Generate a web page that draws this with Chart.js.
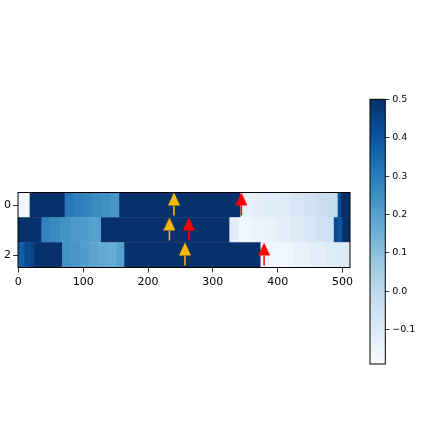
<!DOCTYPE html>
<html>
<head>
<meta charset="utf-8">
<script src="https://cdn.jsdelivr.net/npm/chart.js@4"></script>
<style>
  html, body { margin: 0; padding: 0; background: #fff; }
  #wrap { position: relative; width: 426px; height: 444px; }
  #heat { position: absolute; left: 0; top: 0; }
  #cbar { position: absolute; left: 360px; top: 90px; }
</style>
</head>
<body>
<div id="wrap">
  <canvas id="heat" width="426" height="444"></canvas>
  <canvas id="cbar" width="66" height="290"></canvas>
</div>
<script>
// each row of the image as runs: edges in column units, one value per run
const row0Edges  = [-0.5, 18, 72, 86, 100, 114, 128, 142, 156, 343, 360, 380, 400, 420, 440, 460, 480, 493, 498, 511.5];
const row0Values = [-0.16, 0.5, 0.31, 0.29, 0.28, 0.26, 0.25, 0.23, 0.5, -0.13, -0.12, -0.11, -0.10, -0.08, -0.06, -0.04, -0.02, 0.42, 0.5];

const row1Edges  = [-0.5, 36, 50, 65, 80, 95, 110, 128, 326, 340, 360, 380, 400, 420, 440, 460, 487, 494, 500, 511.5];
const row1Values = [0.5, 0.28, 0.26, 0.24, 0.22, 0.21, 0.20, 0.5, -0.11, -0.16, -0.15, -0.14, -0.12, -0.10, -0.08, -0.05, 0.43, 0.40, 0.5];

const row2Edges  = [-0.5, 10, 20, 26, 68, 82, 96, 110, 124, 138, 152, 164, 374, 400, 425, 450, 475, 500, 511.5];
const row2Values = [0.38, 0.43, 0.45, 0.5, 0.24, 0.23, 0.21, 0.19, 0.17, 0.16, 0.20, 0.5, -0.17, -0.16, -0.14, -0.12, -0.10, -0.09];

const xTicks = [0, 100, 200, 300, 400, 500];
const yTicks = [0, 2];
const colorbarTicks = [0.5, 0.4, 0.3, 0.2, 0.1, 0.0, -0.1];
const vMin = -0.189;
const vMax = 0.5;

// arrows: column and row
const orangeX = [240, 233, 257];
const orangeRow = [0, 1, 2];
const redX = [344, 263, 379];
const redRow = [0, 1, 2];

const blues = ["#f7fbff", "#deebf7", "#c6dbef", "#9ecae1", "#6baed6", "#4292c6", "#2171b5", "#08519c", "#08306b"];
const fontFamily = "'DejaVu Sans', sans-serif";

function hexToRgb(h) {
    return [parseInt(h.slice(1, 3), 16), parseInt(h.slice(3, 5), 16), parseInt(h.slice(5, 7), 16)];
}

function bluesColor(v) {
    let t = (v - vMin) / (vMax - vMin);
    t = Math.max(0, Math.min(1, t));
    const p = t * (blues.length - 1);
    const i = Math.min(Math.floor(p), blues.length - 2);
    const f = p - i;
    const a = hexToRgb(blues[i]);
    const b = hexToRgb(blues[i + 1]);
    const c = a.map((x, k) => Math.round(x + (b[k] - x) * f));
    return "rgb(" + c.join(",") + ")";
}

const rows = [[row0Edges, row0Values], [row1Edges, row1Values], [row2Edges, row2Values]];
const cells = [];
rows.forEach(([edges, values], r) => {
    values.forEach((v, i) => cells.push({ y: r, x: [edges[i], edges[i + 1]], v: v }));
});

function arrowHead(color) {
    const c = document.createElement("canvas");
    c.width = 12;
    c.height = 14;
    const g = c.getContext("2d");
    g.fillStyle = color;
    g.beginPath();
    g.moveTo(6, 0.5);
    g.lineTo(12, 13.5);
    g.lineTo(0, 13.5);
    g.closePath();
    g.fill();
    return c;
}

function stemDatasets(xs, rs, color) {
    return xs.map((x, i) => ({
        type: "line",
        data: [{ x: x, y: rs[i] + 0.03 }, { x: x, y: rs[i] + 0.42 }],
        borderColor: color,
        borderWidth: 1.5,
        pointRadius: 0,
        clip: false,
        order: 2
    }));
}

function headDataset(xs, rs, color) {
    return {
        type: "scatter",
        data: xs.map((x, i) => ({ x: x, y: rs[i] - 0.24 })),
        pointStyle: arrowHead(color),
        pointRadius: 6,
        clip: false,
        order: 1
    };
}

const framePlugin = {
    id: "frame",
    afterDatasetsDraw(chart) {
        const { ctx, chartArea: a } = chart;
        ctx.save();
        ctx.strokeStyle = "#000";
        ctx.lineWidth = 1;
        ctx.strokeRect(a.left, a.top, a.right - a.left, a.bottom - a.top);
        ctx.restore();
    }
};

const orange = "#ffb800";
const red = "#ff0000";

const heatChart = new Chart("heat",
{
    type: "bar",
    data:
    {
        datasets:
        [
            {
                indexAxis: "y",
                data: cells,
                backgroundColor: ctx => ctx.raw ? bluesColor(ctx.raw.v) : "#fff",
                borderWidth: 0,
                barPercentage: 1,
                categoryPercentage: 1,
                order: 3
            },
            ...stemDatasets(orangeX, orangeRow, orange),
            ...stemDatasets(redX, redRow, red),
            headDataset(orangeX, orangeRow, orange),
            headDataset(redX, redRow, red)
        ]
    },
    options:
    {
        responsive: false,
        animation: false,
        events: [],
        layout: { padding: { left: 0, top: 192.5, right: 76, bottom: 151.5 } },
        plugins:
        {
            legend: { display: false },
            tooltip: { enabled: false }
        },
        scales:
        {
            x:
            {
                type: "linear",
                offset: false,
                min: -0.5,
                max: 511.5,
                afterBuildTicks: s => { s.ticks = xTicks.map(v => ({ value: v })); },
                afterFit: s => { s.height = 25; },
                grid: { offset: false, drawOnChartArea: false, tickLength: 5, color: "#000", lineWidth: 0.8 },
                border: { display: false },
                ticks: { color: "#000", font: { family: fontFamily, size: 11 }, padding: 3, maxRotation: 0 }
            },
            y:
            {
                type: "linear",
                offset: false,
                reverse: true,
                min: -0.5,
                max: 2.5,
                afterBuildTicks: s => { s.ticks = yTicks.map(v => ({ value: v })); },
                afterFit: s => { s.width = 18; },
                grid: { offset: false, drawOnChartArea: false, tickLength: 5, color: "#000", lineWidth: 0.8 },
                border: { display: false },
                ticks: { color: "#000", font: { family: fontFamily, size: 11 }, padding: 2 }
            }
        }
    },
    plugins: [framePlugin]
});

const colorbarChart = new Chart("cbar",
{
    type: "bar",
    data:
    {
        labels: [""],
        datasets:
        [
            {
                data: [[vMin, vMax]],
                backgroundColor: ctx =>
                {
                    const chart = ctx.chart;
                    if (!chart.chartArea) return null;
                    const y = chart.scales.y;
                    const g = chart.ctx.createLinearGradient(0, y.getPixelForValue(vMin), 0, y.getPixelForValue(vMax));
                    blues.forEach((c, i) => g.addColorStop(i / (blues.length - 1), c));
                    return g;
                },
                borderWidth: 0,
                barPercentage: 1,
                categoryPercentage: 1
            }
        ]
    },
    options:
    {
        responsive: false,
        animation: false,
        events: [],
        layout: { padding: { left: 10, top: 9.3, right: 0, bottom: 16 } },
        plugins:
        {
            legend: { display: false },
            tooltip: { enabled: false }
        },
        scales:
        {
            x: { display: false },
            y:
            {
                position: "right",
                min: vMin,
                max: vMax,
                afterBuildTicks: s => { s.ticks = colorbarTicks.map(v => ({ value: v })); },
                afterFit: s => { s.width = 40.7; },
                grid: { drawOnChartArea: false, tickLength: 4, color: "#000", lineWidth: 0.8 },
                border: { display: false },
                ticks:
                {
                    color: "#000",
                    font: { family: fontFamily, size: 9.5 },
                    padding: 3,
                    callback: v => (v < 0 ? "\u2212" : "") + Math.abs(v).toFixed(1)
                }
            }
        }
    },
    plugins: [framePlugin]
});
</script>
</body>
</html>
